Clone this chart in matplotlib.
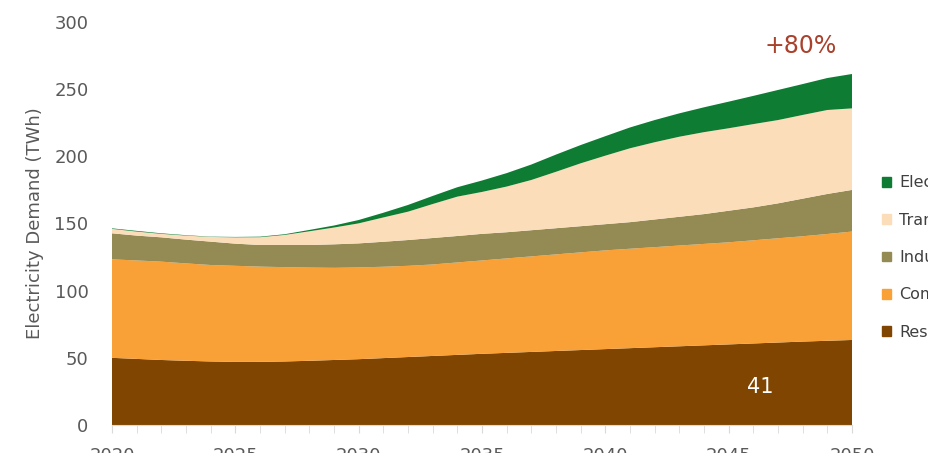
import numpy as np
import matplotlib.pyplot as plt
from matplotlib.ticker import MultipleLocator
from matplotlib.patches import Patch

years = list(range(2020, 2051))
residential = [50, 49.2, 48.4, 47.8, 47.3, 47, 47, 47.3, 47.8, 48.4, 49, 49.8, 50.6, 51.4, 52.2, 53,
               53.7, 54.4, 55.1, 55.8, 56.5, 57.2, 57.9, 58.6, 59.3, 60, 60.7, 61.4, 62.1, 62.7, 63.3]
commercial = [73.3, 73.3, 73.2, 72.5, 71.8, 71.5, 70.9, 70.2, 69.4, 68.6, 68.3, 68, 67.9, 68.1, 68.8, 69.5,
              70.3, 71.1, 71.9, 72.7, 73.5, 74, 74.5, 75, 75.5, 76, 76.8, 77.6, 78.4, 79.5, 80.7]
industrial = [19.4, 18.5, 18.1, 17.7, 17.4, 16.5, 16.1, 16.5, 16.8, 17.5, 17.9, 18.6, 19.2, 19.7, 19.7, 19.8,
              19.5, 19.5, 19.5, 19.5, 19.5, 19.8, 20.6, 21.4, 22.2, 23.5, 24.5, 26, 28, 29.8, 31]
transport = [3.3, 3, 2.6, 3, 3.5, 4.7, 5.8, 7.5, 10.2, 12.5, 14.9, 18.1, 21.1, 25.3, 29.3, 31.2,
             34, 37.4, 42, 46.8, 51, 55, 57.5, 59.6, 61, 61.4, 62, 62, 62.3, 62.5, 60.7]
electric = [0.4, 0.5, 0.4, 0.3, 0.2, 0.3, 0.4, 0.5, 1, 1.5, 2.5, 3.5, 5, 6, 7, 8.5,
            10, 11.5, 12.8, 13.6, 14.5, 15.5, 16.5, 17.4, 18.5, 19.8, 21, 22.4, 23, 23.8, 25.6]

labels = ["Residential", "Commercial", "Industrial", "Transportation", "Electrification"]
colors = ["#7f4501", "#f9a036", "#948b54", "#fcddb9", "#0e7c33"]
gray = '#595959'

fig = plt.figure(figsize=(9.29, 4.53), dpi=100)
ax = fig.add_axes([112/929, 1-425/453, 740/929, 403/453])

ax.stackplot(years, residential, commercial, industrial, transport, electric,
             colors=colors, linewidth=0)

ax.set_xlim(2020, 2050)
ax.set_ylim(0, 300)
ax.xaxis.set_major_locator(MultipleLocator(5))
ax.xaxis.set_minor_locator(MultipleLocator(1))
ax.yaxis.set_major_locator(MultipleLocator(50))
for s in ['top', 'right', 'left']:
    ax.spines[s].set_visible(False)
ax.spines['bottom'].set_color('#d9d9d9')
ax.tick_params(axis='x', which='both', length=6, color='#d9d9d9', pad=9.5,
               labelsize=13, labelcolor=gray)
ax.tick_params(axis='y', length=0, pad=17, labelsize=13, labelcolor=gray)
ax.set_ylabel("Electricity Demand (TWh)", fontsize=13, color=gray, labelpad=7)

ax.text(2047.9, 282, "+80%", fontsize=17, color='#a9412c', ha='center', va='center')
ax.text(2046.3, 28.3, "41", fontsize=15, color='white', ha='center', va='center')

handles = [Patch(color=c) for c in colors[::-1]]
fig.legend(handles, labels[::-1], loc='upper left', bbox_to_anchor=(876/929, 1-169/453),
           frameon=False, fontsize=11.5, labelcolor='#404040', handlelength=0.55,
           handleheight=0.55, handletextpad=0.5, labelspacing=1.4, borderaxespad=0)

fig.savefig("out.png", dpi=100)
